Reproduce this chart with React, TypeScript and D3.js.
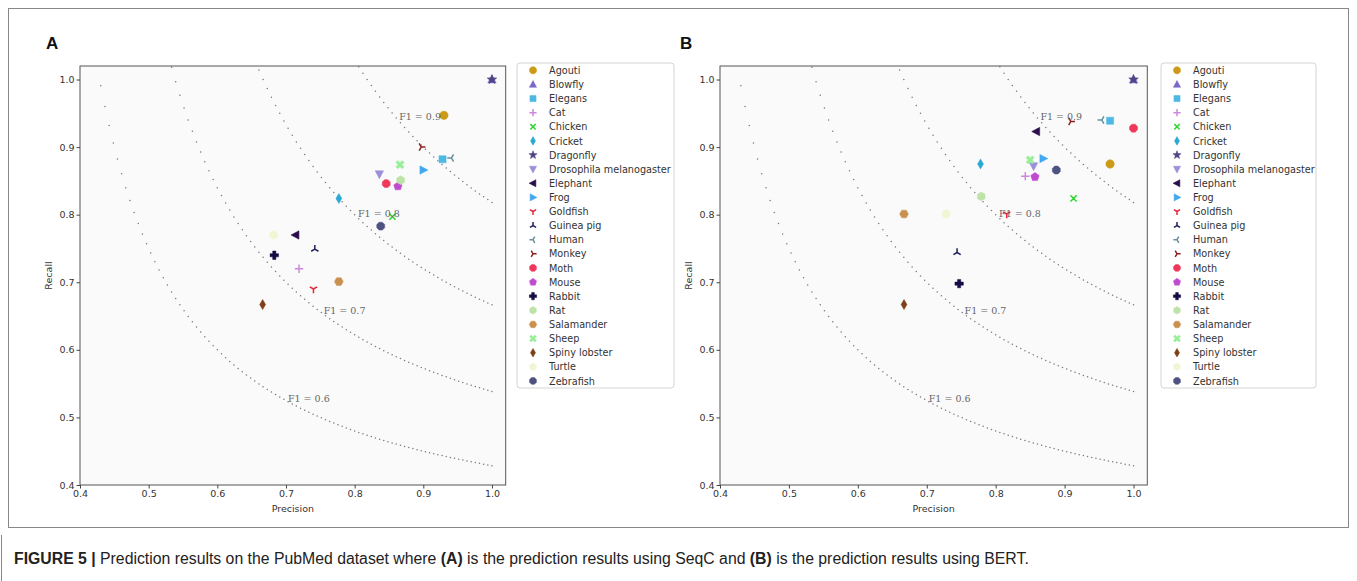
import React, { useEffect, useRef } from 'react'
import * as d3 from 'd3'

const species = [
  'Agouti', 'Blowfly', 'Elegans', 'Cat', 'Chicken', 'Cricket', 'Dragonfly',
  'Drosophila melanogaster', 'Elephant', 'Frog', 'Goldfish', 'Guinea pig',
  'Human', 'Monkey', 'Moth', 'Mouse', 'Rabbit', 'Rat', 'Salamander', 'Sheep',
  'Spiny lobster', 'Turtle', 'Zebrafish',
]
const markers = [
  'o', '^', 's', '+', 'x', 'd', '*', 'v', '<', '>', '1', '2', '3', '4',
  '8', 'p', 'P', 'h', 'H', 'X', 'd', 'h', '8',
]
const colors = [
  '#cc9a16', '#7b68c8', '#4cb9e2', '#cc88dd', '#2ed62e', '#29a9d4', '#4e4584',
  '#9a8fd8', '#2b0d4d', '#40a8f0', '#e8253b', '#20205a', '#6a8f9c', '#8f2020',
  '#f0385a', '#c04bd0', '#140c44', '#bde3a8', '#c99050', '#99ee99', '#7e3f16',
  '#eef7d2', '#4e5280',
]

// panel A (SeqC)
const precisionA = [0.930, 1.0, 0.928, 0.719, 0.855, 0.777, 1.0, 0.836, 0.714, 0.900, 0.740, 0.742, 0.941, 0.897, 0.846, 0.863, 0.683, 0.867, 0.777, 0.866, 0.666, 0.682, 0.838]
const recallA = [0.947, 1.0, 0.882, 0.720, 0.797, 0.824, 1.0, 0.860, 0.770, 0.866, 0.690, 0.749, 0.884, 0.900, 0.846, 0.842, 0.740, 0.851, 0.701, 0.874, 0.667, 0.770, 0.783]
// panel B (BERT)
const precisionB = [0.966, 1.0, 0.966, 0.843, 0.913, 0.778, 1.0, 0.855, 0.859, 0.869, 0.816, 0.744, 0.954, 0.909, 1.0, 0.857, 0.747, 0.779, 0.667, 0.850, 0.667, 0.728, 0.888]
const recallB = [0.875, 1.0, 0.939, 0.857, 0.824, 0.875, 1.0, 0.872, 0.923, 0.883, 0.801, 0.744, 0.940, 0.938, 0.928, 0.856, 0.698, 0.827, 0.801, 0.881, 0.667, 0.801, 0.866]

const f1Levels = [0.6, 0.7, 0.8, 0.9]
const f1LabelPrecision = [0.70, 0.752, 0.802, 0.862]
const ticks = [0.4, 0.5, 0.6, 0.7, 0.8, 0.9, 1.0]

const font = 'DejaVu Sans, sans-serif'

function markerPath(m: string, r: number) {
  const poly = (pts: number[][]) => 'M' + pts.map(p => p.join(',')).join('L') + 'Z'
  const reg = (n: number, rad: number, rot: number) =>
    poly(d3.range(n).map(i => {
      const a = rot + (i * 2 * Math.PI) / n
      return [rad * Math.sin(a), -rad * Math.cos(a)]
    }))
  const arms = (angles: number[], len: number) =>
    angles.map(a => `M0,0L${len * Math.sin(a)},${-len * Math.cos(a)}`).join('')
  const deg = Math.PI / 180
  switch (m) {
    case 'o': return { d: reg(40, r, 0), fill: true }
    case '8': return { d: reg(8, r * 1.02, 22.5 * deg), fill: true }
    case '^': return { d: poly([[0, -r * 1.1], [r, r * 0.8], [-r, r * 0.8]]), fill: true }
    case 'v': return { d: poly([[0, r * 1.1], [r, -r * 0.8], [-r, -r * 0.8]]), fill: true }
    case '<': return { d: poly([[-r * 1.1, 0], [r * 0.8, -r], [r * 0.8, r]]), fill: true }
    case '>': return { d: poly([[r * 1.1, 0], [-r * 0.8, -r], [-r * 0.8, r]]), fill: true }
    case 's': return { d: poly([[-r * 0.85, -r * 0.85], [r * 0.85, -r * 0.85], [r * 0.85, r * 0.85], [-r * 0.85, r * 0.85]]), fill: true }
    case 'd': return { d: poly([[0, -r * 1.2], [r * 0.7, 0], [0, r * 1.2], [-r * 0.7, 0]]), fill: true }
    case 'p': return { d: reg(5, r * 1.05, 0), fill: true }
    case 'h': return { d: reg(6, r * 1.05, 0), fill: true }
    case 'H': return { d: reg(6, r * 1.05, 30 * deg), fill: true }
    case '*': {
      const pts = d3.range(10).map(i => {
        const a = (i * Math.PI) / 5
        const rad = i % 2 === 0 ? r * 1.2 : r * 0.5
        return [rad * Math.sin(a), -rad * Math.cos(a)]
      })
      return { d: poly(pts), fill: true }
    }
    case 'P': {
      const a = r, b = r * 0.38
      return { d: poly([[-b, -a], [b, -a], [b, -b], [a, -b], [a, b], [b, b], [b, a], [-b, a], [-b, b], [-a, b], [-a, -b], [-b, -b]]), fill: true }
    }
    case 'X': {
      const pts: number[][] = []
      const w = r * 0.33, L = r * 1.05
      for (let k = 0; k < 4; k++) {
        const base = 45 * deg + k * 90 * deg
        const c = [L * Math.sin(base), -L * Math.cos(base)]
        const px = [Math.cos(base) * w, Math.sin(base) * w]
        pts.push([c[0] - px[0], c[1] - px[1]], [c[0] + px[0], c[1] + px[1]])
        const mid = base + 45 * deg
        const ri = w * Math.SQRT2
        pts.push([ri * Math.sin(mid), -ri * Math.cos(mid)])
      }
      return { d: poly(pts), fill: true }
    }
    case '+': return { d: `M${-r},0L${r},0M0,${-r}L0,${r}`, fill: false }
    case 'x': return { d: arms([45 * deg, 135 * deg, 225 * deg, 315 * deg], r * 1.05), fill: false }
    case '1': return { d: arms([180 * deg, 60 * deg, 300 * deg], r), fill: false }
    case '2': return { d: arms([0, 120 * deg, 240 * deg], r), fill: false }
    case '3': return { d: arms([270 * deg, 30 * deg, 150 * deg], r), fill: false }
    case '4': return { d: arms([90 * deg, 210 * deg, 330 * deg], r), fill: false }
    default: return { d: reg(40, r, 0), fill: true }
  }
}

function drawMarker(g: any, m: string, color: string, x: number, y: number, r: number) {
  const mk = markerPath(m, r)
  g.append('path')
    .attr('transform', `translate(${x},${y})`)
    .attr('d', mk.d)
    .attr('fill', mk.fill ? color : 'none')
    .attr('stroke', color)
    .attr('stroke-width', mk.fill ? 0.5 : 1.5)
}

function drawPanel(svg: any, opts: any) {
  const { label, left, right, legendX, legendW, precision, recall, id } = opts
  const top = 66
  const bottom = 485

  const x = d3.scaleLinear().domain([0.4, 1.02]).range([left, right])
  const y = d3.scaleLinear().domain([0.4, 1.02]).range([bottom, top])

  svg.append('text')
    .attr('x', label === 'A' ? 46 : 680)
    .attr('y', 49)
    .attr('font-family', 'Liberation Sans, Arial, sans-serif')
    .attr('font-weight', 'bold')
    .attr('font-size', 17)
    .attr('fill', '#111')
    .text(label)

  svg.append('rect')
    .attr('x', left).attr('y', top)
    .attr('width', right - left).attr('height', bottom - top)
    .attr('fill', '#fafafa')

  svg.append('clipPath').attr('id', id)
    .append('rect')
    .attr('x', left).attr('y', top)
    .attr('width', right - left).attr('height', bottom - top)

  const plot = svg.append('g').attr('clip-path', `url(#${id})`)

  // iso-F1 reference curves, F1 = 2PR/(P+R)
  const ps = d3.range(100).map(i => 0.4 + (i * 0.6) / 99)
  f1Levels.forEach((f, i) => {
    ps.forEach(p => {
      const r = (f * p) / (2 * p - f)
      if (r <= 0 || r > 1.03) return
      plot.append('circle')
        .attr('cx', x(p)).attr('cy', y(r))
        .attr('r', 0.75)
        .attr('fill', '#777')
    })
    const lp = f1LabelPrecision[i]
    const lr = (f * lp) / (2 * lp - f)
    svg.append('text')
      .attr('x', x(lp) + 2)
      .attr('y', y(lr) + 1)
      .attr('font-family', 'DejaVu Serif, serif')
      .attr('font-size', 9.5)
      .attr('fill', '#666')
      .text(`F1 = ${f.toFixed(1)}`)
  })

  species.forEach((s, i) => {
    drawMarker(plot, markers[i], colors[i], x(precision[i]), y(recall[i]), 4.2)
  })

  svg.append('rect')
    .attr('x', left).attr('y', top)
    .attr('width', right - left).attr('height', bottom - top)
    .attr('fill', 'none')
    .attr('stroke', '#555')
    .attr('stroke-width', 1)

  const xAxis = svg.append('g')
    .attr('transform', `translate(0,${bottom})`)
    .call(d3.axisBottom(x).tickValues(ticks).tickSize(3.5).tickPadding(2).tickFormat(d3.format('.1f')))
  const yAxis = svg.append('g')
    .attr('transform', `translate(${left},0)`)
    .call(d3.axisLeft(y).tickValues(ticks).tickSize(3.5).tickPadding(2).tickFormat(d3.format('.1f')))
  ;[xAxis, yAxis].forEach(a => {
    a.select('.domain').remove()
    a.selectAll('line').attr('stroke', '#444')
    a.selectAll('text').attr('font-family', font).attr('font-size', 9.5).attr('fill', '#333')
  })

  svg.append('text')
    .attr('x', (left + right) / 2)
    .attr('y', 512)
    .attr('text-anchor', 'middle')
    .attr('font-family', font)
    .attr('font-size', 9.5)
    .attr('fill', '#333')
    .text('Precision')

  svg.append('text')
    .attr('transform', `translate(${left - 28},${(top + bottom) / 2}) rotate(-90)`)
    .attr('text-anchor', 'middle')
    .attr('font-family', font)
    .attr('font-size', 9.5)
    .attr('fill', '#333')
    .text('Recall')

  // legend
  const legTop = 63
  const rowH = 14.12
  svg.append('rect')
    .attr('x', legendX).attr('y', legTop)
    .attr('width', legendW).attr('height', 325)
    .attr('rx', 3)
    .attr('fill', '#fff')
    .attr('stroke', '#d4d4d4')
  species.forEach((s, i) => {
    const cy = legTop + 7.3 + i * rowH
    drawMarker(svg, markers[i], colors[i], legendX + 16, cy, 3.6)
    svg.append('text')
      .attr('x', legendX + 32)
      .attr('y', cy + 3.6)
      .attr('font-family', font)
      .attr('font-size', 9.7)
      .attr('fill', '#333')
      .text(s)
  })
}

const App = () => {
  const ref = useRef<SVGSVGElement>(null)

  useEffect(() => {
    const svg = d3.select(ref.current)
    svg.selectAll('*').remove()

    svg.append('rect').attr('width', 1357).attr('height', 581).attr('fill', '#fff')
    svg.append('rect')
      .attr('x', 8.5).attr('y', 8.5).attr('width', 1340).attr('height', 519)
      .attr('fill', 'none').attr('stroke', '#888')
    svg.append('line')
      .attr('x1', 1.5).attr('x2', 1.5).attr('y1', 535).attr('y2', 581)
      .attr('stroke', '#888')

    drawPanel(svg, {
      id: 'clipA', label: 'A', left: 80, right: 505.7,
      legendX: 517, legendW: 157, precision: precisionA, recall: recallA,
    })
    drawPanel(svg, {
      id: 'clipB', label: 'B', left: 720, right: 1147.3,
      legendX: 1161, legendW: 155, precision: precisionB, recall: recallB,
    })

    const cap = svg.append('text')
      .attr('x', 14)
      .attr('y', 564)
      .attr('font-family', 'Liberation Sans, Arial, sans-serif')
      .attr('font-size', 15.8)
      .attr('fill', '#222')
    const parts: [string, boolean][] = [
      ['FIGURE 5 | ', true],
      ['Prediction results on the PubMed dataset where ', false],
      ['(A)', true],
      [' is the prediction results using SeqC and ', false],
      ['(B)', true],
      [' is the prediction results using BERT.', false],
    ]
    parts.forEach(([t, b]) => {
      cap.append('tspan')
        .attr('font-weight', b ? 'bold' : 'normal')
        .text(t)
    })
  }, [])

  return (
    <svg ref={ref} width={1357} height={581}
      style={{ position: 'absolute', left: 0, top: 0, display: 'block' }} />
  )
}

export default App
